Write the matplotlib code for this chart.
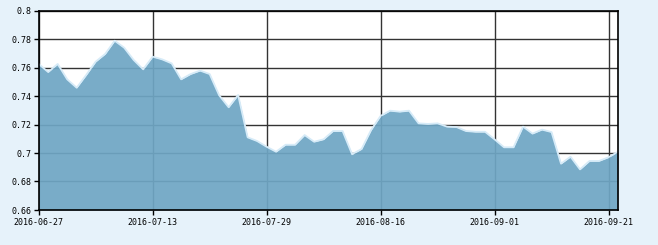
import matplotlib
matplotlib.use("Agg")
import matplotlib.pyplot as plt

# trading days (category axis)
dates = [
    "2016-06-27", "2016-06-28", "2016-06-29", "2016-06-30", "2016-07-01",
    "2016-07-04", "2016-07-05", "2016-07-06", "2016-07-07", "2016-07-08",
    "2016-07-11", "2016-07-12", "2016-07-13", "2016-07-14", "2016-07-15",
    "2016-07-18", "2016-07-19", "2016-07-20", "2016-07-21", "2016-07-22",
    "2016-07-25", "2016-07-26", "2016-07-27", "2016-07-28", "2016-07-29",
    "2016-08-01", "2016-08-02", "2016-08-03", "2016-08-04", "2016-08-05",
    "2016-08-08", "2016-08-09", "2016-08-10", "2016-08-11", "2016-08-12",
    "2016-08-15", "2016-08-16", "2016-08-17", "2016-08-18", "2016-08-19",
    "2016-08-22", "2016-08-23", "2016-08-24", "2016-08-25", "2016-08-26",
    "2016-08-29", "2016-08-30", "2016-08-31", "2016-09-01", "2016-09-02",
    "2016-09-05", "2016-09-06", "2016-09-07", "2016-09-08", "2016-09-09",
    "2016-09-12", "2016-09-13", "2016-09-14", "2016-09-19", "2016-09-20",
    "2016-09-21", "2016-09-22",
]

values = [
    0.7625, 0.7568, 0.7625, 0.7517, 0.7458, 0.7547, 0.7641, 0.7695, 0.7788, 0.7739,
    0.7653, 0.7587, 0.7676, 0.7657, 0.7629, 0.7517, 0.7554, 0.7578, 0.7554, 0.7405,
    0.7321, 0.7407, 0.7110, 0.7084, 0.7044, 0.7009, 0.7058, 0.7058, 0.7126, 0.7079,
    0.7096, 0.7154, 0.7154, 0.6991, 0.7028, 0.7161, 0.7260, 0.7297, 0.7290, 0.7297,
    0.7208, 0.7204, 0.7208, 0.7185, 0.7182, 0.7154, 0.7149, 0.7149, 0.7096, 0.7040,
    0.7040, 0.7185, 0.7136, 0.7164, 0.7147, 0.6925, 0.6974, 0.6885, 0.6944, 0.6944,
    0.6970, 0.7009,
]

x_tick_labels = ["2016-06-27", "2016-07-13", "2016-07-29", "2016-08-16", "2016-09-01", "2016-09-21"]
y_ticks = [0.66, 0.68, 0.70, 0.72, 0.74, 0.76, 0.78, 0.80]
y_tick_labels = ["0.66", "0.68", "0.7", "0.72", "0.74", "0.76", "0.78", "0.8"]

bg = "#E6F2FA"
fig = plt.figure(figsize=(6.58, 2.45), dpi=100, facecolor=bg)
ax = fig.add_axes([38.7 / 658, 35 / 245, (618 - 38.7) / 658, (210 - 10.5) / 245])
ax.set_facecolor("white")

x = list(range(len(values)))
ax.fill_between(x, 0.66, values, color="#6FA6C4", alpha=0.93, linewidth=0, zorder=2)
ax.plot(x, values, color="#D6EBF8", linewidth=1.3, zorder=3)

xt = [dates.index(d) for d in x_tick_labels]
ax.set_xticks(xt)
ax.set_xticklabels(x_tick_labels)
ax.set_yticks(y_ticks)
ax.set_yticklabels(y_tick_labels)
ax.set_xlim(0, len(values) - 1)
ax.set_ylim(0.66, 0.80)

ax.grid(True, color="#333333", linewidth=1, zorder=1)
ax.set_axisbelow(True)
for s in ax.spines.values():
    s.set_color("black")
    s.set_linewidth(1.2)
    s.set_zorder(4)

ax.tick_params(axis="both", direction="out", length=3.5, width=1, color="black",
               labelsize=6, labelcolor="black")
ax.tick_params(axis="x", pad=2)
ax.tick_params(axis="y", pad=1.5)
for lab in ax.get_xticklabels() + ax.get_yticklabels():
    lab.set_family("DejaVu Sans Mono")

fig.savefig("out.png", dpi=100, facecolor=bg)
